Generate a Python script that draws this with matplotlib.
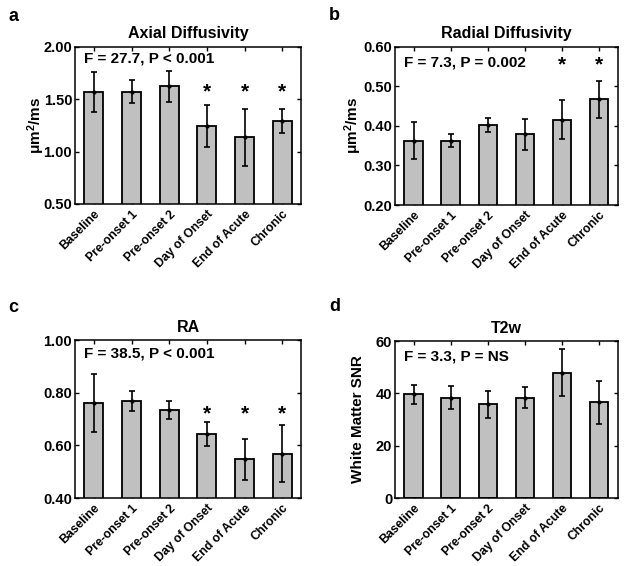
import numpy as np
import matplotlib.pyplot as plt

plt.rcParams['font.family'] = ['Liberation Sans', 'DejaVu Sans']
plt.rcParams['font.weight'] = 'bold'
plt.rcParams['axes.labelweight'] = 'bold'
plt.rcParams['mathtext.fontset'] = 'custom'
plt.rcParams['mathtext.rm'] = 'Liberation Sans:bold'
plt.rcParams['mathtext.bf'] = 'Liberation Sans:bold'
plt.rcParams['mathtext.default'] = 'bf'

groups = ['Baseline', 'Pre-onset 1', 'Pre-onset 2', 'Day of Onset', 'End of Acute', 'Chronic']

# mean and sd per time point
axial_mean = [1.57, 1.57, 1.62, 1.24, 1.135, 1.29]
axial_sd = [0.19, 0.108, 0.15, 0.20, 0.27, 0.117]
axial_sig = [False, False, False, True, True, True]

radial_mean = [0.363, 0.363, 0.402, 0.379, 0.416, 0.467]
radial_sd = [0.047, 0.016, 0.018, 0.039, 0.049, 0.046]
radial_sig = [False, False, False, False, True, True]

ra_mean = [0.76, 0.769, 0.735, 0.643, 0.547, 0.568]
ra_sd = [0.11, 0.038, 0.034, 0.044, 0.078, 0.108]
ra_sig = [False, False, False, True, True, True]

t2w_mean = [39.6, 38.4, 35.8, 38.4, 47.9, 36.6]
t2w_sd = [3.6, 4.5, 5.2, 4.0, 8.9, 8.2]
t2w_sig = [False] * 6


def draw_panel(ax, mean, sd, sig, title, ylim, yticks, fmt, stat, stat_y, star_y,
               ylabel=None, label_x=-0.13):
  x = np.arange(1, len(groups) + 1)
  ax.bar(x, mean, width=0.5, color='#c0c0c0', edgecolor='k', linewidth=1.3, zorder=2)
  ax.errorbar(x, mean, yerr=sd, fmt='.', color='k', ms=4, capsize=2,
              elinewidth=1.2, capthick=1.2, zorder=3)
  for xi, s in zip(x, sig):
    if s:
      ax.text(xi, star_y, '*', ha='center', va='center', fontsize=15)
  ax.set_xlim(0.5, 6.5)
  ax.set_ylim(ylim)
  ax.set_yticks(yticks)
  ax.set_yticklabels([fmt % v for v in yticks])
  ax.set_xticks(x)
  ax.set_xticklabels(groups, rotation=45, ha='right', rotation_mode='anchor')
  ax.tick_params(direction='in', length=3, width=1, top=True, right=True, pad=2)
  ax.tick_params(axis='y', labelsize=10.5)
  ax.tick_params(axis='x', labelsize=8.8, pad=3)
  for sp in ax.spines.values():
    sp.set_linewidth(1.1)
  ax.set_title(title, fontsize=11.5, fontweight='bold', pad=6)
  ax.text(0.04, stat_y, stat, transform=ax.transAxes, fontsize=11, va='center')
  if ylabel:
    ax.set_ylabel(ylabel, fontsize=11, fontweight='bold')
    ax.yaxis.set_label_coords(label_x, 0.5)


fig = plt.figure(figsize=(6.24, 5.66), dpi=100)
ax_a = fig.add_axes([0.1202, 0.6396, 0.3622, 0.278])
ax_b = fig.add_axes([0.633, 0.6378, 0.357, 0.2795])
ax_c = fig.add_axes([0.1202, 0.1201, 0.3622, 0.279])
ax_d = fig.add_axes([0.633, 0.1201, 0.357, 0.2774])

draw_panel(ax_a, axial_mean, axial_sd, axial_sig, 'Axial Diffusivity', (0.5, 2.0),
           [0.5, 1.0, 1.5, 2.0], '%.2f', 'F = 27.7, P < 0.001', 0.922, 1.57,
           ylabel='$\\mu$m$^2$/ms', label_x=-0.124)
draw_panel(ax_b, radial_mean, radial_sd, radial_sig, 'Radial Diffusivity', (0.2, 0.6),
           [0.2, 0.3, 0.4, 0.5, 0.6], '%.2f', 'F = 7.3, P = 0.002', 0.899, 0.555,
           ylabel='$\\mu$m$^2$/ms', label_x=-0.139)
draw_panel(ax_c, ra_mean, ra_sd, ra_sig, 'RA', (0.4, 1.0),
           [0.4, 0.6, 0.8, 1.0], '%.2f', 'F = 38.5, P < 0.001', 0.916, 0.72)
draw_panel(ax_d, t2w_mean, t2w_sd, t2w_sig, 'T2w', (0, 60),
           [0, 20, 40, 60], '%d', 'F = 3.3, P = NS', 0.90, 0,
           ylabel='White Matter SNR', label_x=-0.135)

fig.text(0.013, 0.970, 'a', fontsize=13, fontweight='bold', va='center')
fig.text(0.527, 0.972, 'b', fontsize=13, fontweight='bold', va='center')
fig.text(0.013, 0.456, 'c', fontsize=13, fontweight='bold', va='center')
fig.text(0.527, 0.459, 'd', fontsize=13, fontweight='bold', va='center')

fig.savefig('out.png', dpi=100)
